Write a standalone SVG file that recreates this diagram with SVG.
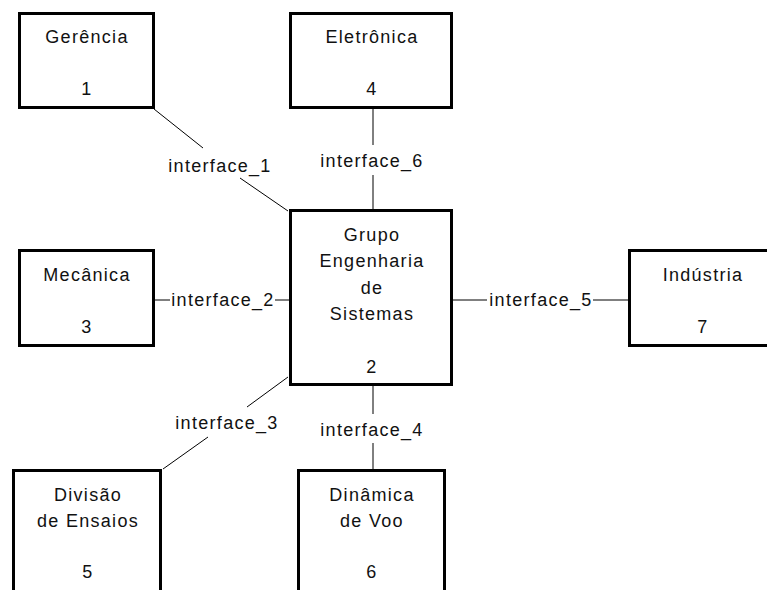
<svg xmlns="http://www.w3.org/2000/svg" width="767" height="590" viewBox="0 0 767 590">
<style>
.box{fill:#fff;stroke:#000;stroke-width:3}
.c{stroke:#000;stroke-width:1;fill:none}
text{font-family:"Liberation Sans",Arial,sans-serif;font-size:18px;letter-spacing:1.3px;fill:#111;text-anchor:middle}
</style>
<rect width="767" height="590" fill="#fff"/>
<g id="connectors">
<path class="c" d="M154,109L203,148M240,178L288,211"/>
<text x="220" y="172">interface_1</text>
<path class="c" d="M155,300H170M275,300H289"/>
<text x="223" y="306">interface_2</text>
<path class="c" d="M288,377L247,407M208,437L163,469"/>
<text x="227" y="429">interface_3</text>
<path class="c" d="M373,386V414M373,443V469"/>
<text x="372" y="436">interface_4</text>
<path class="c" d="M453,300H487M593,300H628"/>
<text x="541" y="306">interface_5</text>
<path class="c" d="M373,109V145M373,175V209"/>
<text x="372" y="167">interface_6</text>
</g>
<g id="n1">
<rect class="box" x="19.5" y="13.5" width="134" height="94"/>
<text x="87" y="43">Gerência</text>
<text x="87" y="95">1</text>
</g>
<g id="n4">
<rect class="box" x="290.5" y="13.5" width="161" height="94"/>
<text x="372" y="43">Eletrônica</text>
<text x="372" y="95">4</text>
</g>
<g id="n3">
<rect class="box" x="19.5" y="250.5" width="134" height="95"/>
<text x="87" y="281">Mecânica</text>
<text x="87" y="333">3</text>
</g>
<g id="n2">
<rect class="box" x="290.5" y="210.5" width="161" height="174"/>
<text x="372" y="241">Grupo</text>
<text x="372" y="267">Engenharia</text>
<text x="372" y="294">de</text>
<text x="372" y="320">Sistemas</text>
<text x="372" y="373">2</text>
</g>
<g id="n7">
<rect class="box" x="629.5" y="250.5" width="146" height="95"/>
<text x="703" y="281">Indústria</text>
<text x="703" y="333">7</text>
</g>
<g id="n5">
<rect class="box" x="13.5" y="470.5" width="147" height="130"/>
<text x="88" y="501">Divisão</text>
<text x="88" y="527">de Ensaios</text>
<text x="88" y="578">5</text>
</g>
<g id="n6">
<rect class="box" x="298.5" y="470.5" width="146" height="130"/>
<text x="372" y="501">Dinâmica</text>
<text x="372" y="527">de Voo</text>
<text x="372" y="578">6</text>
</g>
</svg>
